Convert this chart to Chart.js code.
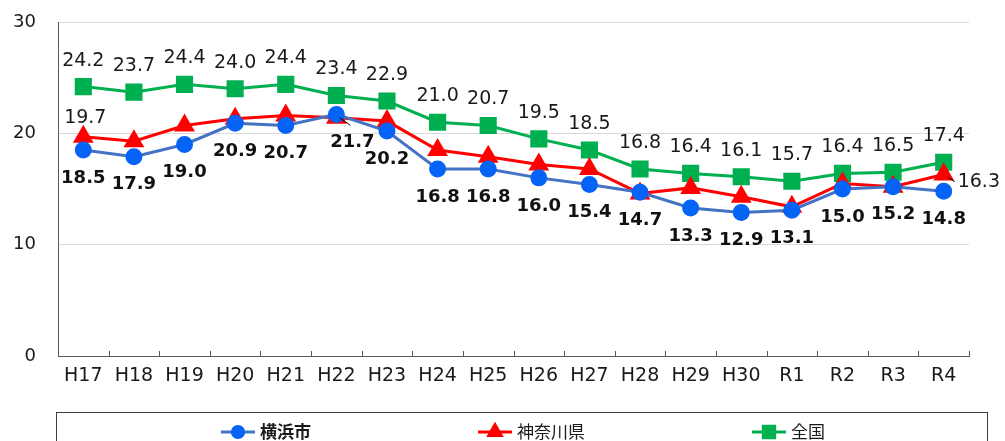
<!DOCTYPE html>
<html>
<head>
<meta charset="utf-8">
<script src="https://cdn.jsdelivr.net/npm/chart.js@4.4.1/dist/chart.umd.min.js"></script>
<style>
  body { margin: 0; background: #fff; }
  #wrap { width: 1005px; height: 441px; }
</style>
</head>
<body>
<div id="wrap"><canvas id="myChart" width="1005" height="441"></canvas></div>
<script>
var years = ["H17", "H18", "H19", "H20", "H21", "H22", "H23", "H24", "H25", "H26", "H27", "H28", "H29", "H30", "R1", "R2", "R3", "R4"];
var yokohama = [18.5, 17.9, 19.0, 20.9, 20.7, 21.7, 20.2, 16.8, 16.8, 16.0, 15.4, 14.7, 13.3, 12.9, 13.1, 15.0, 15.2, 14.8];
var kanagawa = [19.7, 19.3, 20.7, 21.3, 21.6, 21.4, 21.1, 18.5, 17.9, 17.2, 16.8, 14.6, 15.1, 14.3, 13.4, 15.5, 15.2, 16.3];
var zenkoku = [24.2, 23.7, 24.4, 24.0, 24.4, 23.4, 22.9, 21.0, 20.7, 19.5, 18.5, 16.8, 16.4, 16.1, 15.7, 16.4, 16.5, 17.4];
var seriesNames = ["横浜市", "神奈川県", "全国"];
var yTicks = [0, 10, 20, 30];

var FONT = "'DejaVu Sans', 'Noto Sans CJK JP', sans-serif";
var JFONT = "'Noto Sans CJK JP', sans-serif";

// data labels drawn over the chart
var labelPlugin = {
    id: 'labels',
    afterDatasetsDraw: function (chart) {
        var ctx = chart.ctx;
        ctx.save();
        ctx.textAlign = 'center';
        ctx.textBaseline = 'middle';

        // 全国 : above
        var m2 = chart.getDatasetMeta(2);
        ctx.font = '19px ' + FONT;
        ctx.fillStyle = '#1a1a1a';
        m2.data.forEach(function (p, i) {
            ctx.fillText(zenkoku[i].toFixed(1), p.x, p.y - 26);
        });

        // 横浜市 : below, bold
        var m0 = chart.getDatasetMeta(0);
        ctx.font = 'bold 18px ' + FONT;
        ctx.fillStyle = '#111';
        m0.data.forEach(function (p, i) {
            var dx = 0;
            if (i == 5) {
                dx = 16;
                ctx.strokeStyle = '#000';
                ctx.lineWidth = 1;
                ctx.beginPath();
                ctx.moveTo(p.x + 3, p.y + 3);
                ctx.lineTo(p.x + 14, p.y + 11);
                ctx.stroke();
            }
            ctx.fillText(yokohama[i].toFixed(1), p.x + dx, p.y + 28);
        });

        // 神奈川県 : first and last only
        var m1 = chart.getDatasetMeta(1);
        ctx.font = '19px ' + FONT;
        ctx.fillStyle = '#1a1a1a';
        var first = m1.data[0];
        ctx.fillText(kanagawa[0].toFixed(1), first.x + 2, first.y - 19);
        var last = m1.data[kanagawa.length - 1];
        ctx.strokeStyle = '#000';
        ctx.lineWidth = 1;
        ctx.beginPath();
        ctx.moveTo(last.x + 4, last.y + 3);
        ctx.lineTo(last.x + 11, last.y + 7);
        ctx.stroke();
        ctx.textAlign = 'left';
        ctx.fillText(kanagawa[kanagawa.length - 1].toFixed(1), last.x + 14, last.y + 8);
        ctx.restore();
    }
};

// small tick marks on the x axis (pointing up), and the legend box
var extrasPlugin = {
    id: 'extras',
    afterDraw: function (chart) {
        var ctx = chart.ctx;
        var xs = chart.scales.x;
        ctx.save();
        ctx.strokeStyle = '#595959';
        ctx.lineWidth = 1;
        for (var i = 0; i <= years.length; i++) {
            var x = Math.round(xs.getPixelForValue(i - 0.5)) + 0.5;
            ctx.beginPath();
            ctx.moveTo(x, xs.top);
            ctx.lineTo(x, xs.top - 5);
            ctx.stroke();
        }

        // legend
        ctx.strokeStyle = '#3f3f3f';
        ctx.strokeRect(56.5, 412.5, 931, 60);
        var starts = [221, 478, 752];
        ctx.textBaseline = 'middle';
        ctx.textAlign = 'left';
        chart.data.datasets.forEach(function (ds, k) {
            var x0 = starts[k], y = 432;
            ctx.strokeStyle = ds.borderColor;
            ctx.lineWidth = 3;
            ctx.beginPath();
            ctx.moveTo(x0, y);
            ctx.lineTo(x0 + 34, y);
            ctx.stroke();
            ctx.fillStyle = ds.pointBackgroundColor;
            ctx.strokeStyle = ds.pointBorderColor;
            Chart.helpers.drawPoint(ctx, {
                pointStyle: ds.pointStyle,
                radius: ds.pointRadius * 0.8,
                borderWidth: 1
            }, x0 + 17, y);
            ctx.fillStyle = '#1a1a1a';
            ctx.font = (k == 0 ? 'bold ' : '') + '17px ' + JFONT;
            ctx.fillText(seriesNames[k], x0 + 39, y);
        });
        ctx.restore();
    }
};

var ctxMain = document.getElementById('myChart');

new Chart(ctxMain, {
    type: 'line',
    data: {
        labels: years,
        datasets: [{
            label: seriesNames[0],
            data: yokohama,
            borderColor: '#4472C4',
            backgroundColor: '#0563F5',
            pointBackgroundColor: '#0563F5',
            pointBorderColor: '#0563F5',
            pointStyle: 'circle',
            pointRadius: 7,
            borderWidth: 3
        }, {
            label: seriesNames[1],
            data: kanagawa,
            borderColor: '#FF0000',
            backgroundColor: '#FF0000',
            pointBackgroundColor: '#FF0000',
            pointBorderColor: '#FF0000',
            pointStyle: 'triangle',
            pointRadius: 9,
            borderWidth: 3
        }, {
            label: seriesNames[2],
            data: zenkoku,
            borderColor: '#00B050',
            backgroundColor: '#00B050',
            pointBackgroundColor: '#00B050',
            pointBorderColor: '#00B050',
            pointStyle: 'rect',
            pointRadius: 10,
            borderWidth: 3
        }]
    },
    options: {
        responsive: false,
        animation: false,
        layout: { autoPadding: false, padding: { top: 22, right: 36, bottom: 45, left: 0 } },
        plugins: {
            legend: { display: false },
            tooltip: { enabled: false }
        },
        scales: {
            x: {
                offset: true,
                grid: { display: false, drawTicks: false },
                border: { color: '#595959', width: 1 },
                ticks: { color: '#1a1a1a', font: { family: FONT, size: 19 }, padding: 9, maxRotation: 0, autoSkip: false },
                afterFit: function (s) { s.height = 40; }
            },
            y: {
                min: 0,
                max: 30,
                afterBuildTicks: function (s) { s.ticks = yTicks.map(function (v) { return { value: v }; }); },
                grid: { color: '#d9d9d9', drawTicks: false },
                border: { color: '#595959', width: 1 },
                ticks: { color: '#1a1a1a', font: { family: FONT, size: 18 }, padding: 22 },
                afterFit: function (s) { s.width = 58; s.paddingTop = 0; s.paddingBottom = 0; }
            }
        }
    },
    plugins: [labelPlugin, extrasPlugin]
});
</script>
</body>
</html>
